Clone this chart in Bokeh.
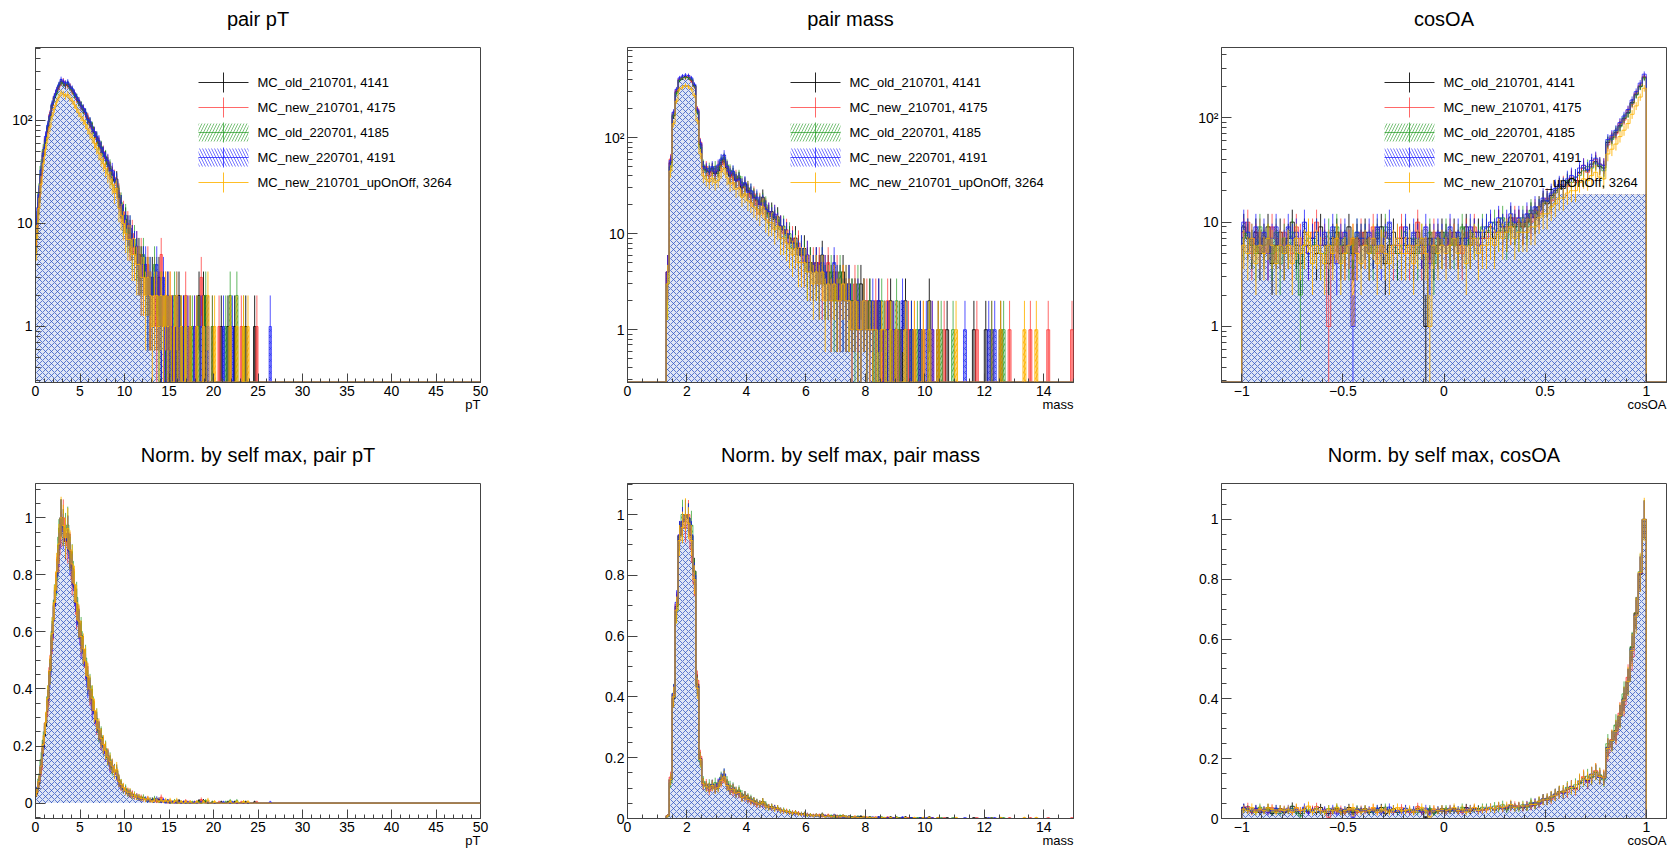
import numpy as np
from bokeh.plotting import figure
from bokeh.layouts import column, row
from bokeh.models import (Range1d, SingleIntervalTicker, LogTicker, Title,
                          CustomJSTickFormatter, Label, Arrow, BoxAnnotation)
from bokeh.embed import file_html
from bokeh.resources import INLINE

# ---------------- data ----------------
SERIES_NAMES = ["MC_old_210701, 4141", "MC_new_210701, 4175", "MC_old_220701, 4185",
                "MC_new_220701, 4191", "MC_new_210701_upOnOff, 3264"]

# pair pT histogram: bins of 0.25 starting at 0
PT_START, PT_BIN = 0.0, 0.25
PT_BLACK = [8, 16, 30, 46, 64, 85, 110, 140, 165, 190,
            215, 238, 230, 218, 225, 210, 196, 180, 166, 150,
            140, 128, 118, 104, 95, 86, 76, 68, 60, 55,
            48, 44, 38, 34, 30, 26, 27, 18, 15, 12,
            11, 9, 8, 7, 6, 5, 5, 4, 4, 3,
            3, 2, 3, 2, 2, 3, 1, 2, 1, 2,
            0, 1, 1, 0, 2, 0, 1, 0, 0, 1,
            0, 0, 1, 2, 0, 2, 1, 0, 0, 0,
            0, 0, 0, 1, 0, 0, 1, 0, 0, 1,
            0, 0, 0, 0, 1, 0, 0, 0, 1, 0,
            0, 0, 0, 0, 0, 0]
PT_RED = [9, 18, 28, 50, 68, 82, 115, 138, 170, 195,
          210, 232, 242, 222, 218, 215, 190, 185, 160, 155,
          136, 130, 115, 108, 92, 84, 78, 66, 62, 52,
          50, 42, 40, 33, 31, 28, 24, 20, 14, 13,
          10, 10, 7, 8, 5, 6, 4, 5, 3, 3,
          4, 2, 2, 3, 1, 2, 5, 1, 2, 0,
          2, 1, 0, 1, 0, 1, 0, 2, 1, 0,
          0, 1, 0, 0, 3, 1, 0, 0, 0, 1,
          0, 0, 1, 0, 0, 0, 0, 1, 0, 0,
          0, 0, 1, 0, 0, 0, 0, 0, 0, 1,
          0, 0, 0, 0, 0, 0]
PT_GREEN = [10, 20, 36, 52, 66, 88, 108, 142, 168, 185,
            220, 236, 228, 225, 230, 206, 200, 178, 170, 148,
            142, 125, 120, 100, 97, 88, 74, 70, 58, 56,
            46, 45, 37, 36, 28, 27, 25, 19, 16, 11,
            12, 8, 9, 6, 7, 5, 4, 4, 5, 3,
            2, 3, 2, 4, 3, 1, 2, 2, 1, 1,
            1, 0, 2, 1, 0, 1, 0, 1, 0, 0,
            1, 0, 0, 1, 0, 0, 2, 0, 0, 1,
            0, 0, 0, 0, 0, 1, 0, 2, 0, 0,
            2, 0, 0, 1, 0, 0, 0, 0, 0, 0,
            0, 0, 0, 0, 0, 0]
PT_BLUE = [11, 19, 33, 48, 70, 90, 112, 145, 172, 198,
           222, 250, 238, 230, 236, 214, 204, 186, 168, 156,
           138, 132, 120, 102, 98, 82, 78, 70, 64, 54,
           49, 43, 41, 32, 33, 27, 26, 17, 15, 12,
           10, 9, 9, 7, 6, 6, 4, 3, 4, 4,
           2, 3, 2, 2, 4, 2, 1, 3, 0, 2,
           1, 1, 0, 2, 1, 0, 1, 0, 1, 0,
           0, 1, 0, 0, 1, 1, 0, 1, 0, 0,
           0, 0, 0, 0, 1, 0, 0, 0, 1, 0,
           0, 0, 0, 0, 0, 0, 0, 0, 0, 0,
           0, 0, 0, 0, 0, 1]
PT_YELLOW = [7, 14, 24, 38, 52, 68, 86, 110, 130, 150,
             168, 185, 180, 172, 178, 164, 155, 142, 130, 118,
             108, 100, 92, 82, 74, 68, 60, 54, 48, 42,
             38, 34, 30, 27, 24, 20, 22, 14, 12, 10,
             8, 7, 7, 5, 5, 4, 4, 3, 3, 2,
             3, 2, 1, 2, 2, 1, 2, 1, 2, 1,
             2, 0, 1, 2, 0, 1, 0, 1, 0, 1,
             0, 0, 1, 0, 0, 1, 0, 2, 0, 0,
             1, 0, 0, 0, 0, 0, 0, 1, 0, 0,
             1, 0, 0, 1, 0, 1, 0, 0, 0, 0,
             0, 0, 0, 0, 0, 0]

# pair mass histogram: bins of 0.1 starting at 1.3
MASS_START, MASS_BIN = 1.3, 0.1
MASS_BLACK = [4, 55, 170, 300, 400, 420, 430, 425, 400, 350,
              190, 85, 50, 46, 44, 48, 42, 45, 55, 60,
              48, 40, 42, 36, 38, 30, 33, 28, 26, 24,
              22, 20, 24, 18, 16, 17, 14, 15, 12, 11,
              10, 9, 8, 9, 7, 6, 7, 5, 5, 4,
              5, 4, 6, 3, 4, 3, 4, 2, 3, 4,
              2, 3, 2, 2, 1, 3, 2, 1, 2, 1,
              1, 2, 0, 1, 1, 2, 0, 1, 0, 1,
              2, 0, 1, 0, 0, 1, 0, 0, 2, 0,
              0, 1, 0, 0, 1, 0, 0, 0, 0, 0,
              0, 0, 0, 1, 0, 0, 0, 1, 0, 0,
              0, 0, 1, 0, 0, 0, 0, 0, 0, 0,
              0, 0, 0, 0, 0, 0, 0, 0, 0, 0,
              0, 0, 0, 0, 0, 0, 0]
MASS_RED = [4, 60, 180, 310, 410, 430, 420, 440, 390, 340,
            200, 90, 48, 50, 40, 46, 45, 50, 52, 58,
            50, 44, 38, 40, 35, 32, 30, 30, 24, 26,
            20, 22, 20, 19, 17, 15, 16, 13, 12, 10,
            11, 8, 9, 7, 8, 6, 5, 6, 4, 5,
            4, 5, 3, 4, 5, 2, 3, 4, 2, 3,
            3, 2, 1, 3, 2, 1, 2, 2, 1, 1,
            2, 1, 1, 0, 2, 1, 1, 0, 1, 0,
            1, 1, 0, 1, 0, 0, 1, 0, 0, 1,
            0, 0, 0, 1, 0, 0, 0, 0, 0, 0,
            0, 0, 0, 0, 1, 0, 0, 0, 0, 1,
            0, 0, 0, 0, 0, 1, 0, 0, 0, 0,
            0, 0, 1, 0, 0, 0, 0, 0, 1, 0,
            0, 0, 0, 0, 0, 0, 1]
MASS_GREEN = [3, 50, 175, 290, 395, 425, 425, 420, 410, 345,
              185, 80, 52, 44, 48, 46, 50, 47, 58, 62,
              52, 46, 44, 38, 40, 34, 31, 30, 28, 25,
              23, 21, 22, 20, 15, 16, 15, 14, 11, 12,
              9, 10, 7, 8, 6, 7, 6, 4, 5, 4,
              4, 3, 5, 3, 3, 4, 2, 3, 4, 2,
              3, 2, 2, 1, 3, 1, 2, 1, 2, 1,
              0, 1, 2, 1, 0, 1, 0, 2, 1, 0,
              1, 0, 1, 0, 1, 1, 0, 0, 1, 0,
              0, 0, 1, 0, 0, 0, 1, 0, 0, 0,
              0, 0, 0, 0, 0, 0, 0, 0, 0, 1,
              0, 0, 0, 1, 0, 0, 0, 0, 0, 0,
              0, 0, 0, 0, 0, 0, 0, 0, 0, 0,
              0, 0, 0, 0, 0, 0, 0]
MASS_BLUE = [4, 58, 185, 320, 420, 440, 450, 445, 420, 360,
             195, 88, 50, 48, 45, 50, 44, 52, 60, 66,
             50, 42, 45, 36, 37, 32, 34, 27, 28, 23,
             24, 20, 21, 18, 17, 15, 16, 13, 12, 11,
             10, 8, 8, 7, 6, 7, 5, 6, 4, 4,
             5, 3, 5, 4, 3, 2, 5, 3, 2, 2,
             2, 3, 1, 2, 2, 1, 2, 1, 1, 2,
             1, 2, 0, 1, 1, 0, 1, 1, 0, 2,
             1, 0, 1, 0, 0, 1, 0, 1, 0, 1,
             0, 0, 0, 0, 0, 0, 0, 0, 0, 0,
             1, 0, 0, 0, 0, 0, 0, 0, 1, 0,
             1, 0, 0, 0, 0, 0, 0, 0, 0, 0,
             0, 0, 0, 0, 0, 0, 0, 0, 0, 0,
             0, 0, 0, 0, 0, 0, 0]
MASS_YELLOW = [3, 45, 140, 240, 320, 335, 350, 340, 320, 275,
               150, 68, 40, 37, 35, 38, 34, 36, 44, 48,
               38, 33, 34, 29, 30, 24, 26, 22, 21, 19,
               18, 16, 19, 14, 13, 13, 11, 12, 9, 9,
               8, 7, 6, 7, 5, 5, 5, 4, 4, 3,
               4, 3, 4, 2, 3, 2, 3, 2, 2, 3,
               2, 2, 1, 2, 1, 1, 2, 1, 1, 1,
               1, 0, 1, 1, 0, 1, 0, 1, 0, 0,
               1, 0, 0, 1, 0, 0, 1, 0, 1, 0,
               0, 1, 0, 0, 0, 0, 0, 1, 0, 0,
               0, 0, 0, 0, 0, 0, 0, 0, 0, 0,
               0, 0, 1, 0, 0, 0, 0, 0, 0, 0,
               1, 0, 0, 0, 1, 0, 0, 0, 0, 0,
               0, 0, 0, 0, 0, 0, 0]

# cosOA histogram: bins of 0.02 starting at -1
COS_START, COS_BIN = -1.0, 0.02
COS_BLACK = [9, 7, 6, 8, 5, 7, 9, 4, 6, 8,
             5, 7, 10, 6, 4, 8, 6, 7, 5, 9,
             6, 4, 7, 8, 5, 6, 9, 5, 7, 6,
             8, 5, 6, 7, 9, 4, 6, 8, 5, 7,
             6, 7, 5, 8, 6, 1, 7, 5, 6, 8,
             7, 6, 8, 6, 7, 9, 6, 8, 8, 7,
             8, 9, 7, 10, 9, 8, 11, 9, 10, 9,
             10, 12, 11, 14, 16, 15, 18, 20, 22, 21,
             24, 26, 25, 30, 33, 31, 36, 38, 34, 33,
             58, 64, 72, 84, 98, 112, 140, 168, 200, 245]
COS_RED = [8, 10, 5, 7, 8, 6, 5, 9, 7, 6,
           8, 6, 5, 9, 7, 6, 5, 8, 10, 6,
           7, 1, 6, 7, 8, 5, 6, 7, 5, 8,
           6, 7, 9, 5, 6, 8, 7, 5, 6, 9,
           7, 5, 6, 10, 5, 7, 6, 8, 7, 6,
           6, 8, 7, 6, 5, 8, 7, 9, 6, 7,
           7, 9, 8, 10, 8, 9, 9, 11, 10, 9,
           11, 10, 13, 12, 15, 17, 16, 19, 21, 23,
           22, 27, 24, 29, 35, 30, 34, 40, 36, 35,
           55, 66, 70, 88, 95, 118, 135, 172, 205, 250]
COS_GREEN = [7, 8, 6, 5, 9, 6, 7, 5, 8, 4,
             7, 6, 8, 5, 2, 6, 7, 6, 8, 5,
             5, 8, 6, 9, 6, 7, 5, 6, 8, 7,
             7, 6, 5, 8, 6, 9, 7, 6, 5, 6,
             8, 6, 7, 5, 7, 6, 8, 4, 7, 6,
             8, 7, 6, 7, 9, 6, 8, 7, 7, 9,
             9, 8, 10, 8, 11, 7, 10, 9, 8, 11,
             9, 13, 12, 13, 15, 16, 17, 19, 21, 22,
             25, 24, 27, 28, 31, 34, 33, 37, 35, 31,
             60, 62, 75, 82, 100, 110, 138, 165, 198, 240]
COS_BLUE = [10, 8, 7, 9, 6, 8, 5, 7, 9, 6,
            6, 9, 7, 8, 6, 10, 5, 7, 8, 6,
            8, 6, 9, 4, 7, 8, 6, 1, 8, 7,
            7, 8, 6, 9, 5, 7, 10, 6, 7, 5,
            9, 6, 8, 7, 6, 9, 4, 7, 8, 7,
            6, 9, 7, 8, 6, 7, 9, 8, 6, 8,
            9, 10, 8, 11, 9, 10, 12, 10, 11, 10,
            12, 11, 14, 13, 17, 16, 19, 21, 23, 22,
            26, 28, 27, 33, 35, 32, 39, 41, 36, 35,
            62, 68, 76, 90, 104, 120, 148, 178, 215, 262]
COS_YELLOW = [6, 5, 7, 4, 6, 5, 7, 6, 4, 6,
              5, 6, 4, 7, 5, 6, 8, 4, 6, 5,
              4, 6, 5, 7, 4, 5, 6, 7, 5, 4,
              6, 5, 7, 4, 6, 5, 4, 6, 7, 5,
              5, 6, 4, 6, 7, 5, 1, 6, 5, 6,
              5, 6, 7, 5, 6, 4, 6, 7, 5, 6,
              6, 7, 6, 8, 7, 8, 9, 7, 8, 8,
              8, 9, 9, 11, 12, 12, 14, 15, 17, 17,
              19, 20, 20, 24, 26, 25, 28, 30, 27, 26,
              45, 50, 56, 66, 76, 88, 108, 130, 158, 192]

# axis ranges
PT_XRANGE = (0.0, 50.0)
MASS_XRANGE = (0.0, 15.0)
COS_XRANGE = (-1.1, 1.1)
PT_LOG_YRANGE = (0.286, 510.0)
MASS_LOG_YRANGE = (0.282, 870.0)
COS_LOG_YRANGE = (0.29, 472.0)
PT_NORM_YRANGE = (-0.054, 1.12)
MASS_NORM_YRANGE = (0.0, 1.102)
COS_NORM_YRANGE = (0.0, 1.12)
COS_LOG_FILL_CAP = 18.5

# ---------------- styling ----------------
COLORS = ["#000000", "#ff2a2a", "#1f9a1f", "#1a1aff", "#ffb300"]
LINE_ALPHA = [0.85, 0.7, 0.7, 0.75, 0.85]
FILL_STYLE = {
    1: dict(fill_color="#ff5a5a", fill_alpha=0.45),
    2: dict(fill_alpha=0.0, hatch_pattern="/", hatch_color="#1f9a1f",
            hatch_alpha=0.6, hatch_scale=6, hatch_weight=1),
    4: dict(fill_color="#ffcc55", fill_alpha=0.25, hatch_pattern="/",
            hatch_color="#ffb300", hatch_alpha=0.8, hatch_scale=6, hatch_weight=1),
    3: dict(fill_color="#dfe6f6", fill_alpha=1.0, hatch_pattern="x",
            hatch_color="#2a4fc0", hatch_alpha=0.72, hatch_scale=6, hatch_weight=1),
}
FILL_ORDER = [1, 2, 4, 3]
FONT = "Liberation Sans"
FRAME_H = 335
AXIS_COLOR = "#444444"

LOG_FMT = CustomJSTickFormatter(code="""
const e = Math.round(Math.log10(tick));
if (e === 0) return "1";
if (e === 1) return "10";
const sup = {"2": "\\u00b2", "3": "\\u00b3", "-1": "\\u207b\\u00b9"};
return "10" + (sup[String(e)] || ("^" + e));
""")


def lin_fmt():
    return CustomJSTickFormatter(code="""
const v = Math.round(tick * 1000) / 1000;
return String(v).replace("-", "\\u2212");
""")


def edges_of(start, width, vals):
    return start + width * np.arange(len(vals) + 1)


def step_path(edges, vals, xlo, xhi, floor, cap=None):
    xs = [xlo, edges[0]]
    ys = [floor, floor]
    for i, v in enumerate(vals):
        h = max(v, floor)
        if cap is not None:
            h = min(h, cap)
        xs += [edges[i], edges[i + 1]]
        ys += [h, h]
    xs += [edges[-1], xhi]
    ys += [floor, floor]
    return xs, ys


def make_panel(series, start, width, xr, yr, log, norm, xticker, title, xlabel,
               fw, borders, legend=False, fill_cap=None):
    bl, br, bt, bb = borders
    p = figure(frame_width=fw, frame_height=FRAME_H,
               x_range=Range1d(*xr), y_range=Range1d(*yr),
               y_axis_type="log" if log else "linear",
               output_backend="svg", toolbar_location=None,
               min_border_left=bl, min_border_right=br,
               min_border_top=bt, min_border_bottom=bb,
               background_fill_color="white", border_fill_color="white")
    p.title.visible = False
    # spacer between frame and title, then the title itself
    p.add_layout(Title(text="\u00a0", text_font_size="1px", standoff=15), "above")
    p.add_layout(Title(text=title, align="center", text_font=FONT,
                       text_font_size="20px", text_font_style="normal",
                       text_color="#000000", standoff=0), "above")
    p.xgrid.visible = False
    p.ygrid.visible = False
    p.outline_line_color = AXIS_COLOR
    p.outline_line_width = 1

    data = []
    for vals in series:
        v = np.asarray(vals, dtype=float)
        e = edges_of(start, width, v)
        scale = v.max() if norm else 1.0
        data.append((e, v, scale))

    line_floor = yr[0] * 1.01 if log else 0.0
    fill_floor = yr[0] if log else 0.0

    # fills
    for k in FILL_ORDER:
        e, v, s = data[k]
        xs, ys = step_path(e, v / s, xr[0], xr[1], fill_floor, fill_cap)
        p.patch(xs, ys, line_alpha=0.0, **FILL_STYLE[k])

    # outlines + error bars
    for k in range(5):
        e, v, s = data[k]
        xs, ys = step_path(e, v / s, xr[0], xr[1], line_floor)
        p.line(xs, ys, line_color=COLORS[k], line_alpha=LINE_ALPHA[k], line_width=1)
        cx = 0.5 * (e[:-1] + e[1:])
        m = v > 0
        err = np.sqrt(v[m])
        lo = (v[m] - err) / s
        hi = (v[m] + err) / s
        if log:
            lo = np.maximum(lo, yr[0])
        p.segment(x0=cx[m], y0=lo, x1=cx[m], y1=hi,
                  line_color=COLORS[k], line_alpha=LINE_ALPHA[k], line_width=1)

    # axes
    xa = p.xaxis[0]
    ya = p.yaxis[0]
    xa.ticker = xticker
    xa.formatter = lin_fmt()
    if log:
        ya.ticker = LogTicker(num_minor_ticks=10)
        ya.formatter = LOG_FMT
    else:
        ya.ticker = SingleIntervalTicker(interval=0.2, num_minor_ticks=4)
        ya.formatter = lin_fmt()
    for ax in (xa, ya):
        ax.axis_line_color = AXIS_COLOR
        ax.major_tick_line_color = AXIS_COLOR
        ax.minor_tick_line_color = AXIS_COLOR
        ax.major_tick_out = 0
        ax.minor_tick_out = 0
        ax.major_label_text_font = FONT
        ax.major_label_text_font_size = "14px"
        ax.major_label_text_color = "#000000"
        ax.major_label_standoff = 3
    xa.major_tick_in = 9
    xa.minor_tick_in = 4
    ya.major_tick_in = 10
    ya.minor_tick_in = 5

    # axis title: right-aligned at the frame edge, just under the tick labels
    p.add_layout(Title(text=xlabel, align="right", vertical_align="top",
                       text_font=FONT, text_font_size="13px",
                       text_font_style="normal", text_color="#000000",
                       standoff=-4), "below")

    if legend:
        for k, name in enumerate(SERIES_NAMES):
            y = FRAME_H - 35 - 25 * k
            if k in (2, 3):
                p.add_layout(BoxAnnotation(
                    left=163, right=213, bottom=y - 9, top=y + 9,
                    left_units="screen", right_units="screen",
                    bottom_units="screen", top_units="screen",
                    fill_alpha=0.0, line_alpha=0.0,
                    hatch_pattern="/" if k == 2 else "\\",
                    hatch_color=COLORS[k], hatch_alpha=0.6, hatch_scale=6,
                    hatch_weight=1))
            p.add_layout(Arrow(end=None, x_start=163, y_start=y, x_end=213, y_end=y,
                               start_units="screen", end_units="screen",
                               line_color=COLORS[k], line_alpha=LINE_ALPHA[k],
                               line_width=1))
            p.add_layout(Arrow(end=None, x_start=188, y_start=y - 10, x_end=188,
                               y_end=y + 10, start_units="screen", end_units="screen",
                               line_color=COLORS[k], line_alpha=LINE_ALPHA[k],
                               line_width=1))
            p.add_layout(Label(x=222, y=y, x_units="screen", y_units="screen",
                               text=name, text_baseline="middle", text_font=FONT,
                               text_font_size="13px", text_color="#000000"))
    return p


PT_SERIES = [PT_BLACK, PT_RED, PT_GREEN, PT_BLUE, PT_YELLOW]
MASS_SERIES = [MASS_BLACK, MASS_RED, MASS_GREEN, MASS_BLUE, MASS_YELLOW]
COS_SERIES = [COS_BLACK, COS_RED, COS_GREEN, COS_BLUE, COS_YELLOW]

TOP = (47, 45)
BOT = (56, 31)

p1 = make_panel(PT_SERIES, PT_START, PT_BIN, PT_XRANGE, PT_LOG_YRANGE, True, False,
                SingleIntervalTicker(interval=5, num_minor_ticks=5), "pair pT", "pT",
                445, (35, 10) + TOP, legend=True)
p2 = make_panel(MASS_SERIES, MASS_START, MASS_BIN, MASS_XRANGE, MASS_LOG_YRANGE, True, False,
                SingleIntervalTicker(interval=2, num_minor_ticks=4), "pair mass", "mass",
                446, (137, 10) + TOP, legend=True)
p3 = make_panel(COS_SERIES, COS_START, COS_BIN, COS_XRANGE, COS_LOG_YRANGE, True, False,
                SingleIntervalTicker(interval=0.5, num_minor_ticks=5), "cosOA", "cosOA",
                445, (138, 10) + TOP, legend=True, fill_cap=COS_LOG_FILL_CAP)
p4 = make_panel(PT_SERIES, PT_START, PT_BIN, PT_XRANGE, PT_NORM_YRANGE, False, True,
                SingleIntervalTicker(interval=5, num_minor_ticks=5),
                "Norm. by self max, pair pT", "pT", 445, (35, 10) + BOT)
p5 = make_panel(MASS_SERIES, MASS_START, MASS_BIN, MASS_XRANGE, MASS_NORM_YRANGE, False, True,
                SingleIntervalTicker(interval=2, num_minor_ticks=4),
                "Norm. by self max, pair mass", "mass", 446, (137, 10) + BOT)
p6 = make_panel(COS_SERIES, COS_START, COS_BIN, COS_XRANGE, COS_NORM_YRANGE, False, True,
                SingleIntervalTicker(interval=0.5, num_minor_ticks=5),
                "Norm. by self max, cosOA", "cosOA", 445, (138, 10) + BOT)

layout = column(row(p1, p2, p3), row(p4, p5, p6))

with open("out.html", "w", encoding="utf-8") as f:
    f.write(file_html(layout, INLINE))
